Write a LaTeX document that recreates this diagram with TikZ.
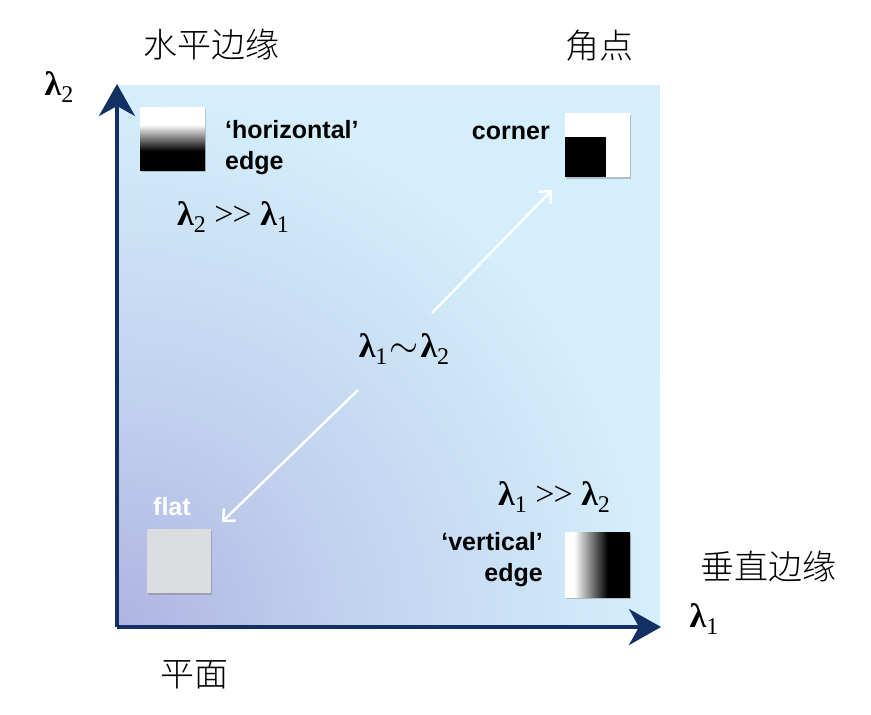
\documentclass[tikz,border=0pt]{standalone}
\usepackage{fontspec}
\setmainfont{Liberation Serif}
\newfontfamily\sansf{Liberation Sans}
\newfontfamily\cjkf{Noto Sans CJK SC}[UprightFont={* Light}]
\usetikzlibrary{arrows.meta,shadows,shadings}
\definecolor{bgpurple}{RGB}{174,180,224}
\definecolor{bgmid}{RGB}{192,208,238}
\definecolor{bgcyan}{RGB}{212,238,251}
\definecolor{navy}{RGB}{20,48,98}
\definecolor{flatgray}{RGB}{220,221,224}
\pgfdeclareverticalshading{hedgeshade}{100bp}{color(0bp)=(black); color(40bp)=(black); color(61bp)=(white); color(100bp)=(white)}
\pgfdeclarehorizontalshading{vedgeshade}{100bp}{color(0bp)=(white); color(32bp)=(white); color(58bp)=(black); color(100bp)=(black)}
\pgfdeclareradialshading{bgrad}{\pgfpoint{0bp}{0bp}}{color(0bp)=(bgpurple); color(9bp)=(bgmid); color(22bp)=(bgcyan); color(50bp)=(bgcyan)}
\newcommand\lamb[1]{{\bfseries λ}\raisebox{-0.22em}{\fontsize{24}{24}\selectfont #1}}
\newcommand\ggsym{>\kern-1pt>}
\newcommand\tildesym{\kern2pt\scalebox{1.5}{$\sim$}\kern2pt}
\begin{document}
\begin{tikzpicture}[x=1pt,y=-1pt,
  sq/.style={minimum width=65pt, minimum height=64pt, inner sep=0pt, draw=none,
    drop shadow={shadow xshift=1pt, shadow yshift=-1.5pt, opacity=0.35, fill=black!60}},
  lbl/.style={font=\sansf\bfseries\fontsize{25}{31}\selectfont, inner sep=0pt},
  lam/.style={font=\fontsize{34}{40}\selectfont, inner sep=0pt},
  cjk/.style={font=\cjkf\fontsize{34}{40}\selectfont, inner sep=0pt},
  axis/.style={draw=navy, line width=4pt, -{Stealth[length=32pt, width=36pt, inset=10pt]}},
  diag/.style={draw=white, line width=2.4pt, -{Straight Barb[length=9pt, width=17pt]}}]
\useasboundingbox (0,0) rectangle (871,715);
% background
\coordinate (O) at (117,627);
\begin{scope}
  \clip (117,85) rectangle (660,628);
  \fill[bgcyan] (117,85) rectangle (660,628);
  \shade[shading=bgrad] (O) circle (600);
\end{scope}
% axes
\coordinate (Ytop) at (117,84);
\coordinate (Xend) at (661,627);
\draw[axis] (O) -- (Ytop);
\draw[axis] (O) -- (Xend);
\node[lam] (l2) at (59,87) {\lamb{2}};
\node[lam] (l1) at (704,619) {\lamb{1}};
% squares
\node[sq, shading=hedgeshade, minimum height=63pt] (hsq) at (172.5,138.5) {};
\node[sq, fill=white] (csq) at (597.5,145) {};
\fill[black] (csq.south west) rectangle ++(41,-40);
\node[sq, shading=vedgeshade, minimum height=65pt] (vsq) at (597.5,564.5) {};
\node[sq, fill=flatgray, minimum width=64pt] (fsq) at (179,561) {};
% labels
\node[lbl, align=left, anchor=west] (htxt) at (225,148) {‘horizontal’\\edge};
\node[lbl, anchor=base east] (ctxt) at (550,139) {corner};
\node[lbl, align=right, anchor=east] (vtxt) at (543,560) {‘vertical’\\edge};
\node[lbl, text=white, anchor=base west] (ftxt) at (153,515) {flat};
\node[lam, anchor=base west] (r21) at (177,225) {\lamb{2} \ggsym\ \lamb{1}};
\node[lam, anchor=base west] (r12) at (498,505) {\lamb{1} \ggsym\ \lamb{2}};
\node[lam, anchor=base] (req) at (404,357) {\lamb{1}\tildesym\lamb{2}};
% diagonal arrows
\coordinate (u0) at (432,313);
\coordinate (u1) at (552,190);
\coordinate (d0) at (358,390);
\coordinate (d1) at (222,522);
\draw[diag] (u0) -- (u1);
\draw[diag] (d0) -- (d1);
% Chinese titles
\node[cjk] (t1) at (211,45) {水平边缘};
\node[cjk] (t2) at (599,46) {角点};
\node[cjk] (t3) at (768,567) {垂直边缘};
\node[cjk] (t4) at (194,675) {平面};
\end{tikzpicture}
\end{document}
